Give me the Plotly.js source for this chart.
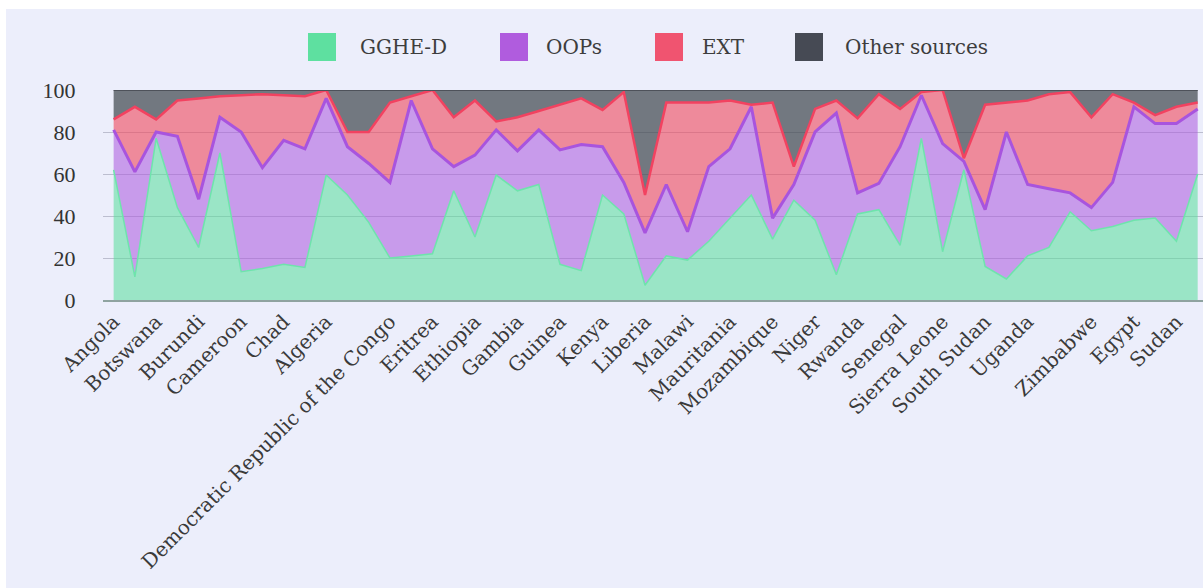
<!DOCTYPE html>
<html><head><meta charset="utf-8">
<script src="https://cdn.plot.ly/plotly-3.0.1.min.js"></script>
<style>html,body{margin:0;padding:0;background:#ffffff;} #chart{position:absolute;left:6px;top:9px;width:1197px;height:579px;}</style>
</head><body><div id="chart"></div>
<script>
// x positions of the countries (one per country shown in the chart)
const pointIndex = Array.from({length: 52}, (_, i) => i);
// labelled countries and the positions at which their labels appear
const tickLabels = ['Angola','Botswana','Burundi','Cameroon','Chad','Algeria','Democratic Republic of the Congo','Eritrea','Ethiopia','Gambia','Guinea','Kenya','Liberia','Malawi','Mauritania','Mozambique','Niger','Rwanda','Senegal','Sierra Leone','South Sudan','Uganda','Zimbabwe','Egypt','Sudan'];
const tickIndex = [0,2,4,6,8,10,13,15,17,19,21,23,25,27,29,31,33,35,37,39,41,43,46,48,50];

// share of current health expenditure (%)
const gghe  = [62,11,77,44,25,70,13.5,15,17,15.5,59.5,50,37,20,21,22,52,30,59.5,52,55,17,14,50,41,7,21,19,28,39,50,29,47.5,38,12,41,43,26,77,23,62,16,10,21,25,42,33,35,38,39,28,60];
const oops  = [19,50,3,34,23,17,66.5,48,59,56.5,36.5,23,28,36,74,50,11.5,39,21.5,19,26,54.5,60,23,15,25,34,13.5,35.5,33,42,10,7.5,42,77,10,12.5,47,20.5,51.5,4,27,70,34,28,9,11,21,54,45,56,31];
const ext   = [5,31,6,17,48,10,17.5,35,21.5,25,4,7,15,38,2,28,23.5,26,4,16,9,21.5,22,17.5,43,18,39,61.5,30.5,23,1,55,8.5,11,6,35.5,42.5,18,1.5,25.5,1.5,50,14,40,45,48,43,42,2,4,8,3];
const other = [14,8,14,5,4,3,2.5,2,2.5,3,0,20,20,6,3,0,13,5,15,13,10,7,4,9.5,1,50,6,6,6,5,7,6,36.5,9,5,13.5,2,9,1,0,32.5,7,6,5,2,1,13,2,6,12,8,6];

const seriesNames = ['GGHE-D','OOPs','EXT','Other sources'];
const seriesData = [gghe, oops, ext, other];
const fillColors = ['rgba(88,222,155,0.55)','rgba(172,88,222,0.55)','rgba(240,72,92,0.6)','rgba(62,70,76,0.7)'];
const lineColors = ['rgb(110,228,172)','rgb(168,84,222)','rgb(242,66,96)','rgb(78,82,90)'];
const lineWidths = [1.5,3,2.5,2];
const swatchColors = ['rgb(94,224,160)','rgb(176,92,222)','rgb(240,84,112)','rgb(70,74,84)'];

const traces = seriesNames.map((name, k) => ({
  type: 'scatter',
  mode: 'lines',
  name: name,
  x: pointIndex,
  y: seriesData[k],
  stackgroup: 'one',
  fill: 'tonexty',
  fillcolor: fillColors[k],
  line: {color: lineColors[k], width: lineWidths[k]},
  hoverinfo: 'name+y',
  showlegend: false
}));

const W = 1197, H = 579;
const M = {l: 97, r: 0, t: 81, b: 288};
const plotW = W - M.l - M.r, plotH = H - M.t - M.b;
const px = x => (x - M.l) / plotW;
const py = y => (H - M.b - y) / plotH;

// legend laid out across the top (swatch left edges and label left edges, in pixels)
const swatchLeft = [302, 494, 649, 789];
const labelLeft = [352, 538, 694, 837];
const legendMid = 38, sw = 28;

const shapes = seriesNames.map((n, k) => ({
  type: 'rect', xref: 'paper', yref: 'paper',
  x0: px(swatchLeft[k]), x1: px(swatchLeft[k] + sw),
  y0: py(legendMid + sw / 2), y1: py(legendMid - sw / 2),
  fillcolor: swatchColors[k], line: {width: 0}
}));
const annotations = seriesNames.map((n, k) => ({
  text: n, xref: 'paper', yref: 'paper',
  x: px(labelLeft[k]), y: py(legendMid), xanchor: 'left', yanchor: 'middle',
  showarrow: false,
  font: {family: 'DejaVu Serif', size: 20, color: '#3d3d3d'}
}));

const layout = {
  width: W, height: H,
  paper_bgcolor: '#eceefb',
  plot_bgcolor: '#eceefb',
  margin: M,
  showlegend: false,
  shapes: shapes,
  annotations: annotations,
  xaxis: {
    range: [-0.5, 51.25],
    tickmode: 'array', tickvals: tickIndex, ticktext: tickLabels,
    tickangle: -45,
    tickfont: {family: 'DejaVu Serif', size: 20, color: '#3a3a3a'},
    showgrid: false, zeroline: false,
    showline: true, linecolor: '#8fa3a0', linewidth: 2,
    ticks: ''
  },
  yaxis: {
    range: [0, 100],
    tickmode: 'array', tickvals: [0,20,40,60,80,100],
    tickfont: {family: 'Liberation Serif', size: 22, color: '#333333'},
    gridcolor: 'rgba(100,100,125,0.35)', gridwidth: 1,
    zeroline: false, showline: false,
    ticks: 'outside', ticklen: 22, tickcolor: 'rgba(0,0,0,0)'
  }
};

Plotly.newPlot('chart', traces, layout, {displayModeBar: false, staticPlot: true});
</script></body></html>
